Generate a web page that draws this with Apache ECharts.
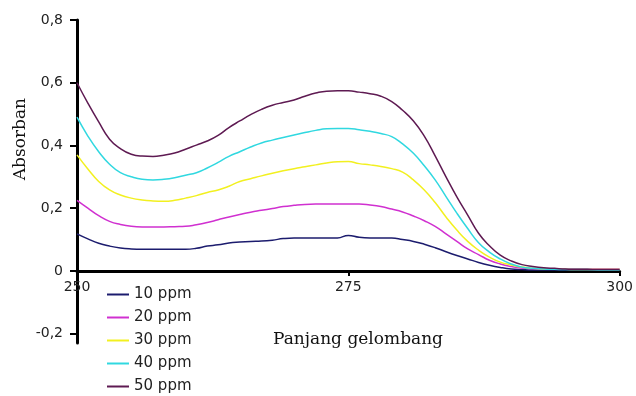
<!DOCTYPE html>
<html>
<head>
<meta charset="utf-8">
<script src="https://cdn.jsdelivr.net/npm/echarts@6/dist/echarts.min.js"></script>
<style>
  html, body { margin: 0; padding: 0; background: #fff; }
  #chart { width: 636px; height: 396px; }
</style>
</head>
<body>
<div id="chart"></div>
<script>
// panjang gelombang 250..300 nm, step 1
const wavelengths = []
for (let w = 250; w <= 300; w++) wavelengths.push(w)

const seriesNames = ['10 ppm', '20 ppm', '30 ppm', '40 ppm', '50 ppm']
const seriesColors = ['#1c1c6e', '#d030d0', '#f2f020', '#30d8e0', '#5e1a52']

const ppm10 = [0.118, 0.102, 0.088, 0.079, 0.073, 0.070, 0.069, 0.069, 0.069, 0.069,
  0.069, 0.072, 0.079, 0.083, 0.089, 0.092, 0.094, 0.095, 0.098, 0.103,
  0.105, 0.105, 0.105, 0.105, 0.105, 0.113, 0.107, 0.105, 0.105, 0.105,
  0.100, 0.094, 0.085, 0.074, 0.061, 0.049, 0.038, 0.027, 0.018, 0.011,
  0.006, 0.004, 0.003, 0.003, 0.003, 0.003, 0.003, 0.003, 0.003, 0.003, 0.003]
const ppm20 = [0.225, 0.200, 0.176, 0.158, 0.148, 0.142, 0.140, 0.140, 0.140, 0.141,
  0.142, 0.147, 0.154, 0.163, 0.172, 0.180, 0.187, 0.193, 0.199, 0.205,
  0.209, 0.212, 0.213, 0.213, 0.213, 0.213, 0.213, 0.210, 0.205, 0.197,
  0.188, 0.175, 0.160, 0.142, 0.118, 0.094, 0.070, 0.052, 0.034, 0.022,
  0.014, 0.009, 0.007, 0.006, 0.006, 0.006, 0.005, 0.005, 0.005, 0.005, 0.005]
const ppm30 = [0.370, 0.325, 0.285, 0.258, 0.242, 0.232, 0.226, 0.223, 0.222, 0.225,
  0.232, 0.240, 0.250, 0.258, 0.270, 0.285, 0.294, 0.303, 0.311, 0.319,
  0.326, 0.332, 0.338, 0.344, 0.348, 0.349, 0.342, 0.338, 0.333, 0.326,
  0.315, 0.290, 0.258, 0.218, 0.172, 0.130, 0.094, 0.066, 0.044, 0.028,
  0.019, 0.012, 0.008, 0.006, 0.005, 0.005, 0.004, 0.004, 0.004, 0.004, 0.004]
const ppm40 = [0.490, 0.430, 0.380, 0.340, 0.313, 0.300, 0.292, 0.290, 0.292, 0.297,
  0.305, 0.313, 0.328, 0.346, 0.365, 0.380, 0.395, 0.408, 0.417, 0.425,
  0.433, 0.441, 0.448, 0.453, 0.454, 0.454, 0.450, 0.445, 0.438, 0.428,
  0.405, 0.375, 0.335, 0.290, 0.237, 0.184, 0.135, 0.090, 0.060, 0.038,
  0.022, 0.012, 0.008, 0.006, 0.005, 0.004, 0.004, 0.004, 0.003, 0.003, 0.003]
const ppm50 = [0.600, 0.535, 0.475, 0.420, 0.390, 0.372, 0.366, 0.365, 0.369, 0.376,
  0.388, 0.401, 0.414, 0.432, 0.457, 0.478, 0.498, 0.515, 0.528, 0.537,
  0.545, 0.557, 0.567, 0.573, 0.574, 0.574, 0.570, 0.565, 0.557, 0.540,
  0.512, 0.478, 0.430, 0.367, 0.300, 0.236, 0.178, 0.120, 0.080, 0.050,
  0.032, 0.020, 0.014, 0.010, 0.008, 0.006, 0.005, 0.005, 0.004, 0.004, 0.004]

const yTicks = [-0.2, 0, 0.2, 0.4, 0.6, 0.8]
const allData = [ppm10, ppm20, ppm30, ppm40, ppm50]

function pairs(values) {
  return values.map((v, i) => [wavelengths[i], v])
}

const series = seriesNames.map((name, i) => ({
  name: name,
  type: 'line',
  data: pairs(allData[i]),
  smooth: true,
  showSymbol: false,
  lineStyle: { color: seriesColors[i], width: 1.5 },
  itemStyle: { color: seriesColors[i] },
  z: 2
}))

// y range -0.23..0.8 over 323px, so 0 sits 72px above the grid bottom
const option = {
  animation: false,
  backgroundColor: '#fff',
  grid: { left: 77, right: 15, top: 20, bottom: 53 },
  xAxis: {
    type: 'value',
    min: 250,
    max: 300,
    interval: 25,
    offset: -72,
    axisLine: { onZero: false, lineStyle: { color: '#000', width: 3 } },
    axisTick: { show: true, length: 5, lineStyle: { color: '#000', width: 2 } },
    axisLabel: { margin: 9, color: '#222', fontFamily: 'DejaVu Sans', fontSize: 14 },
    splitLine: { show: false }
  },
  yAxis: {
    type: 'value',
    min: -0.23,
    max: 0.8,
    axisLine: { show: true, lineStyle: { color: '#000', width: 3 } },
    axisTick: { show: true, length: 7, customValues: yTicks, lineStyle: { color: '#000', width: 2 } },
    axisLabel: {
      customValues: yTicks,
      margin: 14,
      color: '#222',
      fontFamily: 'DejaVu Sans',
      fontSize: 14,
      formatter: function (v) {
        if (Math.abs(v) < 1e-9) return '0'
        return v.toFixed(1).replace('.', ',')
      }
    },
    splitLine: { show: false }
  },
  legend: {
    orient: 'vertical',
    left: 107,
    top: 287,
    padding: 0,
    itemWidth: 22,
    itemHeight: 2,
    itemGap: 8,
    icon: 'rect',
    textStyle: { fontFamily: 'DejaVu Sans', fontSize: 15, color: '#222', lineHeight: 15 },
    data: seriesNames
  },
  graphic: [
    {
      type: 'text',
      left: 12,
      top: 98,
      rotation: Math.PI / 2,
      style: { text: 'Absorban', fontFamily: 'DejaVu Serif', fontSize: 17, fill: '#111' }
    },
    {
      type: 'text',
      left: 273,
      top: 331,
      style: { text: 'Panjang gelombang', fontFamily: 'DejaVu Serif', fontSize: 17, fill: '#111' }
    }
  ],
  series: series
}

const myChart = echarts.init(document.getElementById('chart'))
myChart.setOption(option)
</script>
</body>
</html>
